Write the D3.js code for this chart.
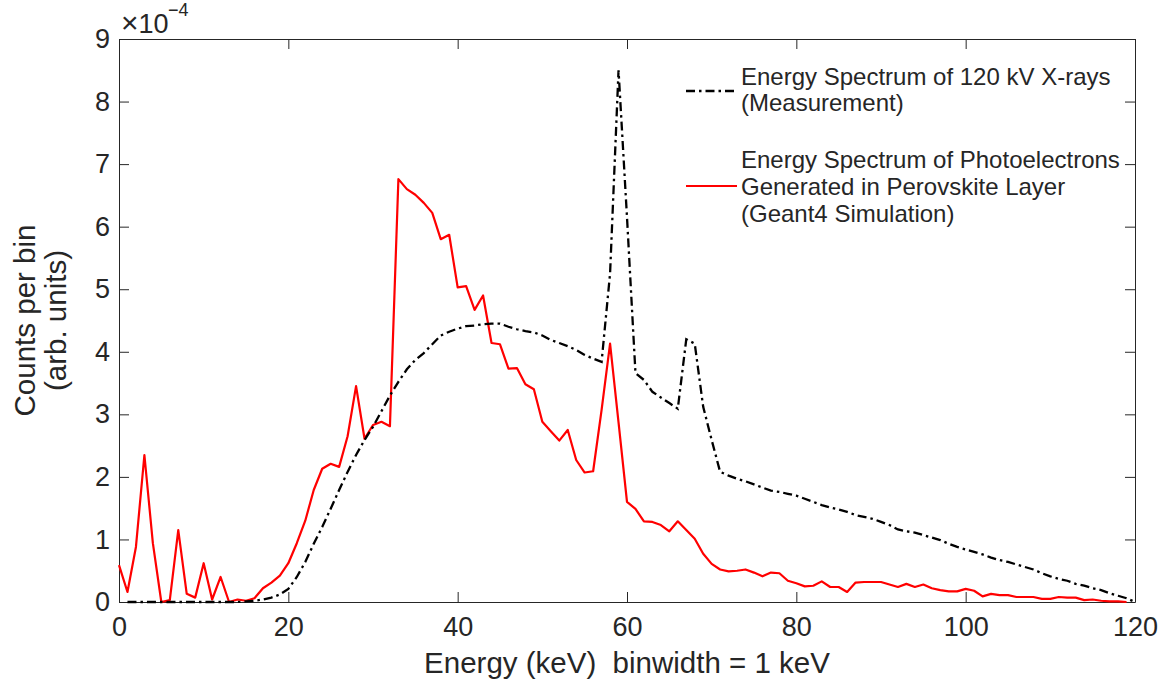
<!DOCTYPE html>
<html>
<head>
<meta charset="utf-8">
<script src="https://cdn.jsdelivr.net/npm/d3@7/dist/d3.min.js"></script>
<style>
  html, body { margin: 0; padding: 0; background: #fff; }
  svg { display: block; }
  text { font-family: "Liberation Sans", Arial, Helvetica, sans-serif; fill: #262626; }
</style>
</head>
<body>
<svg id="chart" width="1160" height="683"></svg>
<script>
// ---- Data (counts per bin, in units of 1e-4) ----
const xTicks = [0, 20, 40, 60, 80, 100, 120];
const yTicks = [0, 1, 2, 3, 4, 5, 6, 7, 8, 9];

// Measured X-ray spectrum, bins start at 1 keV
const measuredStartKeV = 1;
const measuredCounts = [
  0, 0, 0, 0, 0, 0, 0, 0, 0, 0, 0, 0, 0, 0,
  0.01, 0.02, 0.04, 0.07, 0.12, 0.21, 0.40, 0.64, 0.93, 1.20,
  1.49, 1.79, 2.08, 2.35, 2.59, 2.80, 3.05, 3.30, 3.52, 3.72,
  3.87, 3.98, 4.12, 4.26, 4.32, 4.37, 4.41, 4.42, 4.44, 4.45,
  4.45, 4.40, 4.36, 4.33, 4.31, 4.26, 4.19, 4.14, 4.09, 4.03,
  3.95, 3.89, 3.84, 5.25, 8.50, 6.15, 3.66, 3.55, 3.36, 3.27,
  3.18, 3.09, 4.20, 4.13, 3.12, 2.59, 2.08, 2.02, 1.97, 1.93,
  1.88, 1.83, 1.78, 1.76, 1.73, 1.70, 1.65, 1.60, 1.55, 1.51,
  1.48, 1.44, 1.39, 1.36, 1.33, 1.28, 1.23, 1.16, 1.13, 1.11,
  1.07, 1.03, 0.99, 0.93, 0.88, 0.84, 0.80, 0.76, 0.71, 0.67,
  0.64, 0.60, 0.56, 0.52, 0.46, 0.41, 0.37, 0.34, 0.29, 0.26,
  0.22, 0.19, 0.14, 0.10, 0.06, 0.00
];

// Simulated photoelectron spectrum, bins start at 0 keV
const simulatedStartKeV = 0;
const simulatedCounts = [
  0.59, 0.16, 0.88, 2.35, 0.94, 0.00, 0.03, 1.15, 0.13, 0.07,
  0.62, 0.04, 0.40, 0.00, 0.04, 0.02, 0.06, 0.22, 0.31, 0.42,
  0.62, 0.94, 1.30, 1.79, 2.13, 2.21, 2.16, 2.65, 3.45, 2.61,
  2.83, 2.88, 2.81, 6.76, 6.60, 6.51, 6.38, 6.22, 5.80, 5.87,
  5.03, 5.05, 4.67, 4.90, 4.14, 4.12, 3.73, 3.74, 3.48, 3.40,
  2.88, 2.73, 2.58, 2.75, 2.27, 2.07, 2.09, 3.07, 4.13, 2.87,
  1.60, 1.49, 1.29, 1.28, 1.23, 1.13, 1.29, 1.15, 1.01, 0.77,
  0.61, 0.52, 0.49, 0.50, 0.52, 0.47, 0.41, 0.47, 0.46, 0.34,
  0.30, 0.25, 0.26, 0.33, 0.24, 0.24, 0.16, 0.31, 0.32, 0.32,
  0.32, 0.28, 0.24, 0.29, 0.24, 0.28, 0.22, 0.19, 0.17, 0.17,
  0.21, 0.18, 0.09, 0.13, 0.11, 0.11, 0.08, 0.08, 0.08, 0.05,
  0.05, 0.08, 0.07, 0.07, 0.03, 0.04, 0.02, 0.01, 0.01, 0.00
];

const legendMeasured = ["Energy Spectrum of 120 kV X-rays", "(Measurement)"];
const legendSimulated = ["Energy Spectrum of Photoelectrons", "Generated in Perovskite Layer", "(Geant4 Simulation)"];
const xLabel = "Energy (keV)  binwidth = 1 keV";
const yLabel = ["Counts per bin", "(arb. units)"];

(function () {
  // ---- Layout ----
  const svg = d3.select("#chart");
  const pLeft = 119, pRight = 1135, pTop = 39, pBottom = 602;
  const x = d3.scaleLinear().domain([0, 120]).range([pLeft, pRight]);
  const y = d3.scaleLinear().domain([0, 9]).range([pBottom, pTop]);
  const axisColor = "#262626";
  const tickFont = 27;

  function styleAxis(g) {
    g.selectAll("path.domain").attr("stroke", axisColor).attr("stroke-width", 1);
    g.selectAll(".tick line").attr("stroke", axisColor).attr("stroke-width", 1);
    g.selectAll(".tick text").attr("fill", axisColor)
      .style("font-size", tickFont + "px")
      .style("font-family", '"Liberation Sans", Arial, sans-serif');
  }

  svg.append("g").attr("transform", `translate(0,${pBottom})`)
    .call(d3.axisBottom(x).tickValues(xTicks).tickFormat(d3.format("d"))
      .tickSizeInner(-10).tickSizeOuter(0).tickPadding(15))
    .call(styleAxis);
  svg.append("g").attr("transform", `translate(${pLeft},0)`)
    .call(d3.axisLeft(y).tickValues(yTicks).tickFormat(d3.format("d"))
      .tickSizeInner(-10).tickSizeOuter(0).tickPadding(9))
    .call(styleAxis);
  svg.append("g").attr("transform", `translate(0,${pTop})`)
    .call(d3.axisTop(x).tickValues(xTicks).tickFormat("")
      .tickSizeInner(-10).tickSizeOuter(0))
    .call(styleAxis);
  svg.append("g").attr("transform", `translate(${pRight},0)`)
    .call(d3.axisRight(y).tickValues(yTicks).tickFormat("")
      .tickSizeInner(-10).tickSizeOuter(0))
    .call(styleAxis);

  // exponent label
  const ex = svg.append("text").attr("x", 121).attr("y", 33).style("font-size", "27px");
  ex.append("tspan").style("font-size", "30px").text("\u00D7");
  ex.append("tspan").text("10");
  svg.append("text").attr("x", 168).attr("y", 16)
    .style("font-size", "18px").text("\u22124");

  // ---- Lines ----
  const measuredData = measuredCounts.map((v, i) => ({ e: measuredStartKeV + i, v }));
  const simulatedData = simulatedCounts.map((v, i) => ({ e: simulatedStartKeV + i, v }));
  const line = d3.line().x(d => x(d.e)).y(d => y(d.v));

  svg.append("path").datum(simulatedData)
    .attr("d", line).attr("fill", "none")
    .attr("stroke", "#ff0000").attr("stroke-width", 2.2)
    .attr("stroke-linejoin", "round");

  svg.append("path").datum(measuredData)
    .attr("d", line).attr("fill", "none")
    .attr("stroke", "#000000").attr("stroke-width", 2.3)
    .attr("stroke-dasharray", "9,4,2.5,4");

  // ---- Legend ----
  const legendFont = 24;
  const lg = svg.append("g");
  lg.append("line").attr("x1", 686).attr("x2", 737).attr("y1", 91).attr("y2", 91)
    .attr("stroke", "#000").attr("stroke-width", 2.3).attr("stroke-dasharray", "9,4,2.5,4");
  legendMeasured.forEach((t, i) => {
    lg.append("text").attr("x", 741).attr("y", 85 + i * 26)
      .style("font-size", legendFont + "px").attr("fill", "#000").text(t);
  });
  lg.append("line").attr("x1", 686).attr("x2", 737).attr("y1", 186).attr("y2", 186)
    .attr("stroke", "#ff0000").attr("stroke-width", 2.2);
  legendSimulated.forEach((t, i) => {
    lg.append("text").attr("x", 741).attr("y", 168 + i * 27)
      .style("font-size", legendFont + "px").attr("fill", "#000").text(t);
  });

  // ---- Axis labels ----
  svg.append("text").attr("x", (pLeft + pRight) / 2).attr("y", 673)
    .attr("text-anchor", "middle").style("font-size", "29.5px")
    .style("white-space", "pre").attr("xml:space", "preserve").text(xLabel);

  const yl = svg.append("text")
    .attr("transform", `translate(35,${(pTop + pBottom) / 2}) rotate(-90)`)
    .attr("text-anchor", "middle").style("font-size", "29.5px");
  yLabel.forEach((t, i) => {
    yl.append("tspan").attr("x", 0).attr("dy", i === 0 ? 0 : 31).text(t);
  });
})();
</script>
</body>
</html>
